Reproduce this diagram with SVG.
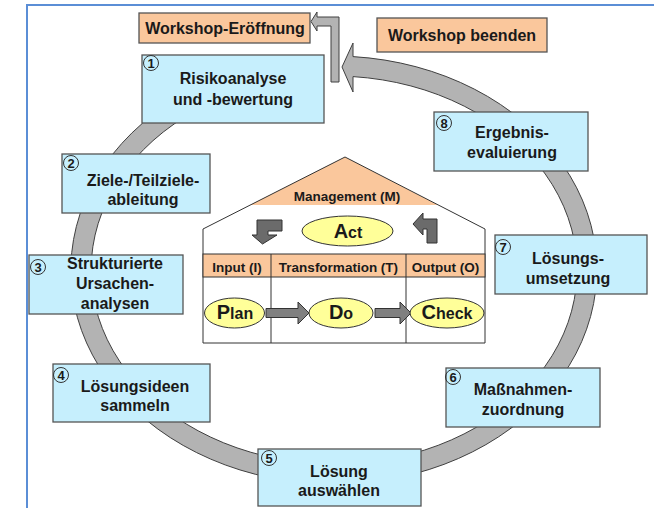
<svg xmlns="http://www.w3.org/2000/svg" width="654" height="508" viewBox="0 0 654 508">
<style>
text{font-family:"Liberation Sans",Arial,sans-serif;font-weight:bold;fill:#1a1a1a}
.box{fill:#c6effd;stroke:#555;stroke-width:1.3}
.peach{fill:#fac79c;stroke:#555;stroke-width:1.3}
.t{font-size:16px;text-anchor:middle}
.num{fill:none;stroke:#333;stroke-width:1}
.n{font-size:13px;text-anchor:middle}
.ell{fill:#ffff99;stroke:#333;stroke-width:1}
.h{font-size:13.5px;text-anchor:middle}
.ring{fill:#b3b3b3;stroke:#404040;stroke-width:1}
.dark{fill:#6b6b6b;stroke:#333;stroke-width:1}
.mid{fill:#808080;stroke:#333;stroke-width:1}
.line{stroke:#333;stroke-width:1;fill:none}
</style>
<rect width="654" height="508" fill="#fff"/>
<path d="M27,508 V5 H654" fill="none" stroke="#5b8ed6" stroke-width="2"/>

<g id="connectors">
<path class="ring" d="M353,56.6 A263,214 0 1,1 250,67.2 L250,88 A243,194 0 1,0 353,76.6 L353,92 L342,67 L353,43 Z"/>
<polygon class="ring" points="339,82 339,17 317,17 317,12 311,21.5 317,31 317,26 331,26 331,82"/>
</g>

<g id="workshop-eroeffnung">
<rect class="peach" x="139" y="13" width="171" height="30"/>
<text class="t" x="225" y="34">Workshop-Eröffnung</text>
</g>
<g id="workshop-beenden">
<rect class="peach" x="377" y="18" width="170" height="34"/>
<text class="t" x="462" y="41">Workshop beenden</text>
</g>

<g id="step1">
<rect class="box" x="142" y="55" width="182" height="68"/>
<circle class="num" cx="151" cy="63" r="7.5"/><text class="n" x="151" y="67.5">1</text>
<text class="t" x="233" y="83.5">Risikoanalyse</text>
<text class="t" x="233" y="104.5">und -bewertung</text>
</g>
<g id="step2">
<rect class="box" x="62" y="154" width="148" height="59"/>
<circle class="num" cx="71" cy="163" r="7.5"/><text class="n" x="71" y="167.5">2</text>
<text class="t" x="143" y="185.5">Ziele-/Teilziele-</text>
<text class="t" x="143" y="204.5">ableitung</text>
</g>
<g id="step3">
<rect class="box" x="29" y="255" width="154" height="59"/>
<circle class="num" cx="38" cy="267" r="7.5"/><text class="n" x="38" y="271.5">3</text>
<text class="t" x="115" y="268.5">Strukturierte</text>
<text class="t" x="115" y="288.5">Ursachen-</text>
<text class="t" x="115" y="308.5">analysen</text>
</g>
<g id="step4">
<rect class="box" x="53" y="364" width="157" height="58"/>
<circle class="num" cx="61" cy="375" r="7.5"/><text class="n" x="61" y="379.5">4</text>
<text class="t" x="135" y="391.5">Lösungsideen</text>
<text class="t" x="135" y="410.5">sammeln</text>
</g>
<g id="step5">
<rect class="box" x="258" y="449" width="163" height="57"/>
<circle class="num" cx="269" cy="458" r="7.5"/><text class="n" x="269" y="462.5">5</text>
<text class="t" x="339" y="477">Lösung</text>
<text class="t" x="339" y="496">auswählen</text>
</g>
<g id="step6">
<rect class="box" x="446" y="368" width="154" height="59"/>
<circle class="num" cx="453" cy="377" r="7.5"/><text class="n" x="453" y="381.5">6</text>
<text class="t" x="523" y="395">Maßnahmen-</text>
<text class="t" x="523" y="415">zuordnung</text>
</g>
<g id="step7">
<rect class="box" x="495" y="235" width="152" height="59"/>
<circle class="num" cx="503" cy="247" r="7.5"/><text class="n" x="503" y="251.5">7</text>
<text class="t" x="568" y="263.5">Lösungs-</text>
<text class="t" x="568" y="283.5">umsetzung</text>
</g>
<g id="step8">
<rect class="box" x="434" y="112" width="154" height="59"/>
<circle class="num" cx="444" cy="123" r="7.5"/><text class="n" x="444" y="127.5">8</text>
<text class="t" x="512" y="137.5">Ergebnis-</text>
<text class="t" x="512" y="157.5">evaluierung</text>
</g>

<g id="house">
<polygon points="203,343 203,229 345,157 485,229 485,343" fill="#fff" stroke="none"/>
<polygon points="345,157 250,205 438,205" fill="#fac79c"/>
<polygon class="line" points="203,343 203,229 345,157 485,229 485,343"/>
<text class="h" x="347" y="201">Management (M)</text>
<rect x="203" y="254" width="282" height="23" fill="#fac79c" stroke="#333" stroke-width="1"/>
<line class="line" x1="271" y1="254" x2="271" y2="343"/>
<line class="line" x1="406" y1="254" x2="406" y2="343"/>
<text class="h" x="237" y="271.5">Input (I)</text>
<text class="h" x="338.5" y="271.5">Transformation (T)</text>
<text class="h" x="445.5" y="271.5">Output (O)</text>
</g>

<g id="act-arrows">
<polygon class="dark" points="282,220 282,231 268,231 268,235 277,235 262.5,244 252,235 257,235 257,220"/>
<polygon class="dark" points="437,243 427,243 427,229 423,229 423,235 413,224 423,213 423,219 437,219"/>
</g>

<g id="act">
<ellipse class="ell" cx="347.5" cy="231" rx="45.5" ry="15"/>
<text x="348" y="238" text-anchor="middle"><tspan font-size="20">A</tspan><tspan font-size="16">ct</tspan></text>
</g>

<g id="pdc-arrows">
<polygon class="mid" points="266,308.5 298,308.5 298,302 309,313 298,324 298,317.5 266,317.5"/>
<polygon class="mid" points="375,308.5 400,308.5 400,302 411,313 400,324 400,317.5 375,317.5"/>
</g>

<g id="plan">
<ellipse class="ell" cx="234.5" cy="313" rx="30" ry="15"/>
<text x="235" y="319" text-anchor="middle"><tspan font-size="20">P</tspan><tspan font-size="16">lan</tspan></text>
</g>
<g id="do">
<ellipse class="ell" cx="341" cy="313" rx="32" ry="15"/>
<text x="341" y="319" text-anchor="middle"><tspan font-size="20">D</tspan><tspan font-size="16">o</tspan></text>
</g>
<g id="check">
<ellipse class="ell" cx="447" cy="313" rx="37" ry="15"/>
<text x="447" y="319" text-anchor="middle"><tspan font-size="20">C</tspan><tspan font-size="16">heck</tspan></text>
</g>
</svg>
